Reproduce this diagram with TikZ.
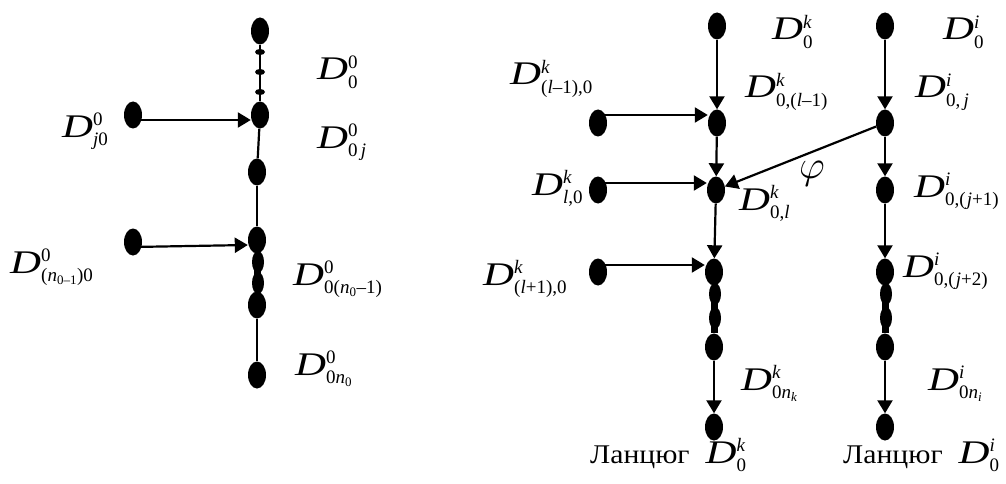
\RequirePackage{fix-cm}
\documentclass[tikz,border=0pt]{standalone}
\usepackage{amsmath}
\usepackage{graphicx}
\usepackage{fontspec}
\setmainfont{Liberation Serif}
\usetikzlibrary{shapes.geometric,arrows.meta}
\DeclareMathSizes{33}{33}{19}{14}
\DeclareMathSizes{19}{19}{13}{10}
\newcommand{\Dlab}[2]{\scalebox{1.3}[1]{\textit{D}}$\vphantom{\textit{D}}^{\text{#1}}_{\text{#2}}$}
\tikzset{
  dot/.style={ellipse, fill=black, inner sep=0pt, minimum width=18pt, minimum height=27pt},
  tinydot/.style={ellipse, fill=black, inner sep=0pt, minimum width=10pt, minimum height=6pt},
  blob/.style={ellipse, fill=black, inner sep=0pt, minimum width=12pt, minimum height=22pt},
  link/.style={line width=2.2pt},
  arr/.style={line width=2.2pt, -{Triangle[length=13pt,width=15pt]}},
  fatseg/.style={line width=7pt},
  lab/.style={anchor=base west, inner sep=0pt, font=\fontsize{33}{38}\selectfont},
  caplab/.style={anchor=base west, inner sep=0pt, font=\fontsize{27}{32}\selectfont},
}
\begin{document}
\begin{tikzpicture}[x=1pt,y=-1pt]
\useasboundingbox (0,0) rectangle (1006,484);
% ---------- left chain ----------
\node[dot] (a0) at (260,31) {};
\node[tinydot] (t1) at (260,52) {};
\node[tinydot] (t2) at (260,72) {};
\node[tinydot] (t3) at (260,92) {};
\node[dot] (a1) at (260,115) {};
\node[dot] (a2) at (257,172) {};
\node[dot] (a3) at (257,240) {};
\node[blob] (ab1) at (258,262) {};
\node[blob] (ab2) at (258,283) {};
\node[dot] (a4) at (257,305) {};
\node[dot] (a5) at (257,375) {};
\node[dot] (s1) at (133,115) {};
\node[dot] (s2) at (133,242) {};
\draw[link] (a0) -- (a1);
\draw[link] (a1) -- (a2);
\draw[link] (a2) -- (a3);
\draw[fatseg] (a3) -- (a4);
\draw[link] (a4) -- (a5);
\draw[arr] ([yshift=-5pt]s1.center) -- ([yshift=-5pt]a1.west);
\draw[arr] ([yshift=-5pt]s2.center) -- ([yshift=-5pt]a3.west);
% left labels
\node[lab] (la0) at (317,80) {\Dlab{0}{0}};
\node[lab] (la1) at (317,148) {\Dlab{0}{0\,\textit{j}}};
\node[lab] (ls1) at (62,137) {\Dlab{0}{\textit{j}0}};
\node[lab] (ls2) at (10,273) {\Dlab{0}{(\textit{n}$_{\text{0–1}}$)0}};
\node[lab] (la4) at (293,285) {\Dlab{0}{0(\textit{n}$_{\text{0}}$–1)}};
\node[lab] (la5) at (295,375) {\Dlab{0}{0\textit{n}$_{\text{0}}$}};
% ---------- chain k ----------
\node[dot] (k0) at (717,26) {};
\node[dot] (k1) at (717,123) {};
\node[dot] (k2) at (716,190) {};
\node[dot] (k3) at (714,272) {};
\node[blob] (kb1) at (715,294) {};
\node[blob] (kb2) at (715,318) {};
\node[dot] (k4) at (714,347) {};
\node[dot] (k5) at (714,427) {};
\node[dot] (ks1) at (598,123) {};
\node[dot] (ks2) at (598,190) {};
\node[dot] (ks3) at (598,272) {};
\draw[arr] (k0) -- (k1);
\draw[arr] (k1) -- (k2);
\draw[arr] (k2) -- (k3);
\draw[fatseg] (k3) -- (k4);
\draw[arr] (k4) -- (k5);
\draw[arr] ([yshift=8pt]ks1.center) -- ([yshift=8pt]k1.west);
\draw[arr] ([yshift=7pt]ks2.center) -- ([yshift=7pt]k2.west);
\draw[arr] ([yshift=7pt]ks3.center) -- ([yshift=7pt]k3.west);
% ---------- chain i ----------
\node[dot] (i0) at (885,26) {};
\node[dot] (i1) at (885,123) {};
\node[dot] (i2) at (885,190) {};
\node[dot] (i3) at (885,272) {};
\node[blob] (ib1) at (886,294) {};
\node[blob] (ib2) at (886,318) {};
\node[dot] (i4) at (885,347) {};
\node[dot] (i5) at (885,427) {};
\draw[arr] (i0) -- (i1);
\draw[arr] (i1) -- (i2);
\draw[arr] (i2) -- (i3);
\draw[fatseg] (i3) -- (i4);
\draw[arr] (i4) -- (i5);
\draw[arr] (i1) -- (k2);
% right labels
\node[lab] (lk0) at (772,40) {\Dlab{\textit{k}}{0}};
\node[lab] (li0) at (943,40) {\Dlab{\textit{i}}{0}};
\node[lab] (lk1) at (745,98) {\Dlab{\textit{k}}{0,(\textit{l}–1)}};
\node[lab] (li1) at (915,98) {\Dlab{\textit{i}}{0,\,\textit{j}}};
\node[lab] (lk2) at (739,210) {\Dlab{\textit{k}}{0,\textit{l}}};
\node[lab] (li2) at (914,197) {\Dlab{\textit{i}}{0,(\kern1pt\textit{j}+1)}};
\node[lab] (li3) at (903,277) {\Dlab{\textit{i}}{0,(\kern1pt\textit{j}+2)}};
\node[lab] (lk5) at (741,390) {\Dlab{\textit{k}}{0\textit{n}$_{\textit{k}}$}};
\node[lab] (li5) at (928,390) {\Dlab{\textit{i}}{0\textit{n}$_{\textit{i}}$}};
\node[lab] (lks1) at (510,85) {\Dlab{\textit{k}}{(\textit{l}–1),0}};
\node[lab] (lks2) at (532,195) {\Dlab{\textit{k}}{\textit{l},0}};
\node[lab] (lks3) at (483,285) {\Dlab{\textit{k}}{(\textit{l}+1),0}};
\node[lab,font=\fontsize{40}{44}\selectfont] (phi) at (799,178) {$\varphi$};
\node[caplab] (ck) at (590,463) {\scalebox{1.1}[1]{Ланцюг}\hspace{16pt}{\fontsize{33}{38}\selectfont\Dlab{\textit{k}}{0}}};
\node[caplab] (ci) at (843,463) {\scalebox{1.1}[1]{Ланцюг}\hspace{16pt}{\fontsize{33}{38}\selectfont\Dlab{\textit{i}}{0}}};
\end{tikzpicture}
\end{document}
